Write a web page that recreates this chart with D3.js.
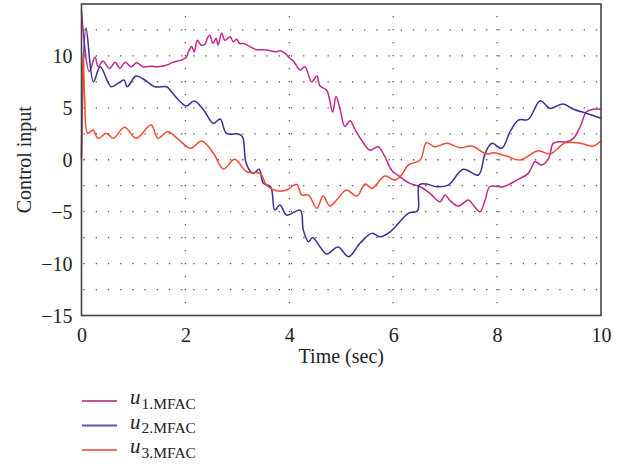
<!DOCTYPE html>
<html><head><meta charset="utf-8">
<script src="https://cdn.jsdelivr.net/npm/d3@7"></script>
<style>body{margin:0;background:#fff}svg{display:block}</style>
</head><body>
<svg id="c" width="624" height="464"></svg>
<script>
const t1 = [0,0.15,0.26,0.32,0.41,0.54,0.65,0.74,0.84,0.96,1.06,1.18,1.34,1.47,1.63,1.79,1.92,2.02,2.06,2.12,2.17,2.23,2.3,2.38,2.42,2.47,2.53,2.59,2.63,2.7,2.76,2.86,2.92,2.99,3.04,3.12,3.24,3.37,3.5,3.63,3.76,3.82,3.92,4.01,4.08,4.21,4.3,4.43,4.53,4.59,4.72,4.835,4.9,4.98,5.07,5.17,5.27,5.39,5.55,5.71,5.84,5.97,6.13,6.32,6.52,6.71,6.9,7.0,7.09,7.25,7.45,7.54,7.67,7.77,7.86,8.12,8.38,8.6,8.73,8.86,8.99,9.08,9.18,9.34,9.47,9.6,9.72,9.85,10];
const u1 = [14.4,8.5,9.9,8.96,9.5,8.8,9.4,8.8,9.4,8.96,9.35,8.96,9.0,8.96,9.1,9.44,9.6,9.9,10.4,10.9,10.4,11.5,11.05,11.15,11.7,12.0,11.2,11.7,11.05,12.2,11.5,11.85,11.37,11.6,11.2,11.2,10.9,10.6,10.6,10.5,10.4,10.5,10.25,9.77,9.5,8.64,8.96,7.5,8.06,7.1,6.7,4.6,6.1,4.8,3.2,3.76,2.86,1.9,0.93,1.25,0.29,-1.0,-1.64,-2.27,-2.6,-3.24,-4.05,-3.4,-3.9,-4.46,-3.88,-4.36,-5.0,-3.88,-2.6,-2.6,-1.96,-1.31,-0.19,-0.51,0.13,1.58,1.73,1.73,2.06,3.18,4.62,4.86,4.86];

const t2 = [0,0.087,0.23,0.36,0.57,0.7,0.82,0.88,1.05,1.22,1.41,1.64,1.73,1.9,2.02,2.17,2.35,2.54,2.67,2.79,3.02,3.1,3.17,3.3,3.42,3.5,3.64,3.72,3.82,3.95,4.21,4.27,4.37,4.45,4.59,4.72,4.94,5.14,5.36,5.59,5.75,5.94,6.1,6.29,6.47,6.5,6.64,6.84,7.06,7.35,7.64,7.77,7.9,8.09,8.25,8.41,8.6,8.83,9.02,9.27,9.47,9.72,10];
const u2 = [0.2,12.7,7.5,8.96,7.03,7.36,7.68,7.03,8.06,7.68,7.03,7.03,6.55,5.59,5.17,5.65,4.79,3.5,3.92,2.54,2.48,2.2,-0.35,-1.31,-0.92,-2.27,-2.6,-4.85,-4.36,-5.33,-4.85,-6.77,-7.9,-7.48,-8.38,-9.08,-8.4,-9.34,-8.05,-7.09,-7.42,-6.94,-6.13,-5.16,-4.91,-2.44,-2.34,-2.6,-2.44,-0.92,-1.47,0.61,1.58,1.1,2.7,3.82,3.89,5.68,4.95,5.37,4.86,4.47,3.99];

const t3 = [0,0.03,0.06,0.12,0.22,0.32,0.48,0.61,0.83,1.05,1.34,1.47,1.66,1.88,2.1,2.31,2.54,2.73,2.95,3.18,3.44,3.56,3.76,3.95,4.14,4.24,4.37,4.53,4.65,4.78,4.91,5.1,5.3,5.46,5.59,5.84,6.03,6.16,6.29,6.52,6.64,6.8,7.03,7.29,7.51,7.8,7.93,8.18,8.44,8.79,9.02,9.31,9.6,9.85,10];
const u3 = [0,10.3,6,2.54,2.86,2.06,2.54,2.06,3.12,2.06,3.34,2.06,2.7,1.9,1.1,1.8,0.62,-0.9,0.04,-1.16,-1.31,-2.44,-2.99,-2.92,-2.37,-3.4,-3.4,-4.68,-3.5,-4.45,-3.88,-2.92,-3.5,-2.34,-2.76,-1.57,-1.96,-1.47,-0.51,-0.03,1.64,1.25,1.58,1.15,1.32,0.55,0.67,0.36,-0.03,0.87,0.55,1.64,1.58,1.32,1.83];

const xTicks = [0,2,4,6,8,10];
const yTicks = [-15,-10,-5,0,5,10];
const yGrid = [-12.5,-10,-7.5,-5,-2.5,0,2.5,5,7.5,10,12.5];
const xGrid = [2,4,6,8];
const seriesNames = ["1.MFAC","2.MFAC","3.MFAC"];
const colors = ["#c0288e","#3a2e98","#f24a2a"];

const svg = d3.select("#c");
const x = d3.scaleLinear().domain([0,10]).range([81.5,601]);
const y = d3.scaleLinear().domain([-15,15]).range([315.5,4]);
const font = "'Liberation Serif', 'DejaVu Serif', serif";

// grid
svg.append("g").selectAll("line").data(yGrid).join("line")
  .attr("x1",x(0)).attr("x2",x(10)).attr("y1",d=>y(d)).attr("y2",d=>y(d))
  .attr("stroke","#555").attr("stroke-width",1.3)
  .attr("stroke-dasharray","1.3,10.9").attr("stroke-dashoffset",10.2);
svg.append("g").selectAll("line").data(xGrid).join("line")
  .attr("x1",d=>x(d)).attr("x2",d=>x(d)).attr("y1",y(15)).attr("y2",y(-15))
  .attr("stroke","#555").attr("stroke-width",1.3)
  .attr("stroke-dasharray","1.3,11.7").attr("stroke-dashoffset",1);

// lines
const series = [[t1,u1],[t2,u2],[t3,u3]];
const line = d3.line().x(d=>x(d[0])).y(d=>y(d[1])).curve(d3.curveCatmullRom.alpha(0.5));
series.forEach((s,i)=>{
  const pts = s[0].map((t,j)=>[t,s[1][j]]);
  svg.append("path").datum(pts).attr("d",line)
    .attr("fill","none").attr("stroke",colors[i]).attr("stroke-width",1.5);
});

// frame
svg.append("rect").attr("x",x(0)).attr("y",y(15)).attr("width",x(10)-x(0)).attr("height",y(-15)-y(15))
  .attr("fill","none").attr("stroke","#444").attr("stroke-width",1.6);

// axes
const fmt = d => d<0 ? "\u2212"+Math.abs(d) : String(d);
const ax = svg.append("g").attr("transform",`translate(0,${y(-15)})`)
  .call(d3.axisBottom(x).tickValues(xTicks).tickSize(0).tickPadding(9).tickFormat(fmt));
const ay = svg.append("g").attr("transform",`translate(${x(0)},0)`)
  .call(d3.axisLeft(y).tickValues(yTicks).tickSize(0).tickPadding(9).tickFormat(fmt));
[ax,ay].forEach(g=>{
  g.select(".domain").remove();
  g.selectAll("text").attr("font-family",font).attr("font-size",20).attr("fill","#222");
});
ax.selectAll("text").attr("dy","0.85em");
ay.selectAll("text").attr("dy","0.34em");

svg.append("text").attr("x",(x(0)+x(10))/2).attr("y",363).attr("text-anchor","middle")
  .attr("font-family",font).attr("font-size",20).attr("fill","#222").text("Time (sec)");
svg.append("text").attr("transform",`translate(31,${y(0)}) rotate(-90)`).attr("text-anchor","middle")
  .attr("font-family",font).attr("font-size",20).attr("fill","#222").text("Control input");

// legend
const leg = svg.append("g");
seriesNames.forEach((n,i)=>{
  const yy = 401 + i*24.5;
  leg.append("line").attr("x1",82).attr("x2",117).attr("y1",yy).attr("y2",yy)
    .attr("stroke",colors[i]).attr("stroke-width",1.8).attr("opacity",0.8);
  const t = leg.append("text").attr("x",130).attr("y",yy+3).attr("font-family",font).attr("fill","#222");
  t.append("tspan").attr("font-style","italic").attr("font-size",21).text("u");
  t.append("tspan").attr("font-size",15.5).attr("dy",4.5).attr("dx",1).text(n);
});
</script>
</body></html>
